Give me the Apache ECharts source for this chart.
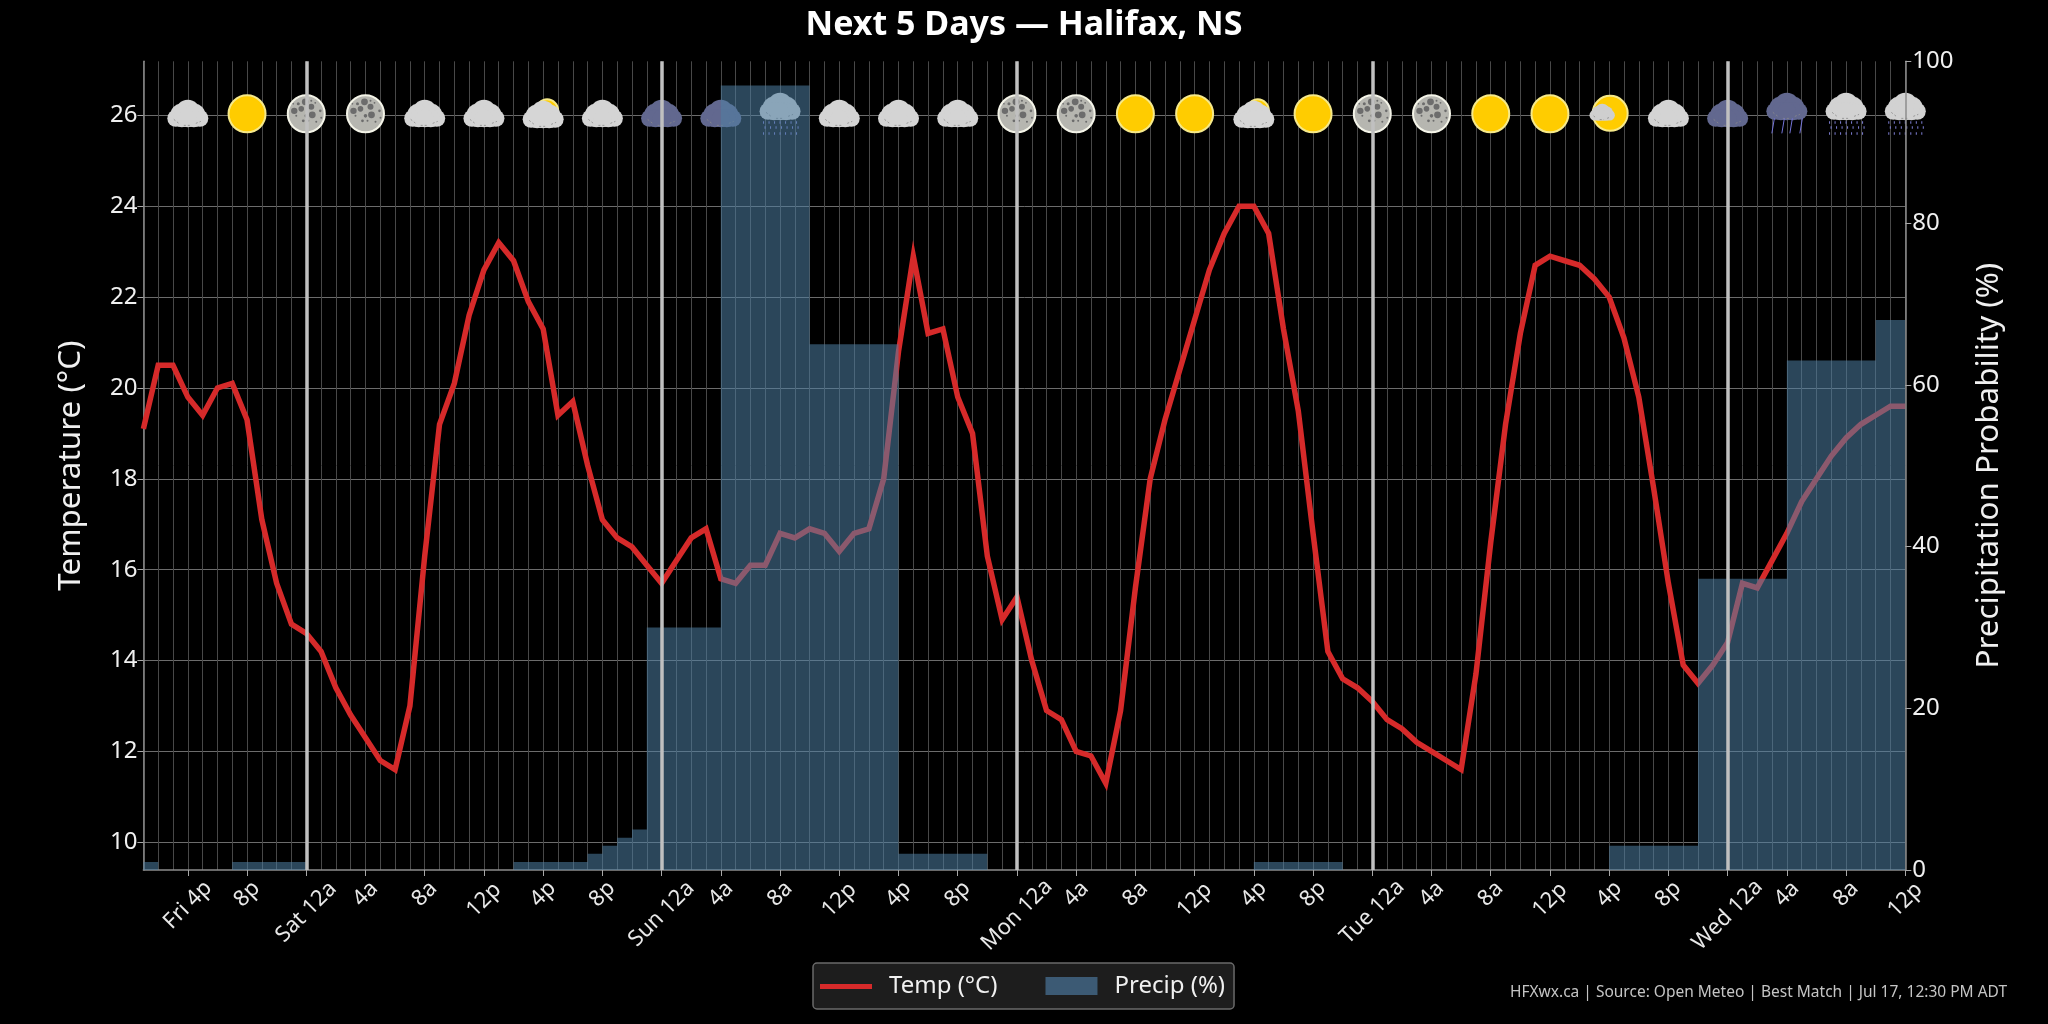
<!DOCTYPE html>
<html>
<head>
<meta charset="utf-8">
<title>Next 5 Days — Halifax, NS</title>
<script src="https://cdn.jsdelivr.net/npm/echarts@6/dist/echarts.min.js"></script>
<style>html,body{margin:0;padding:0;background:#000}#chart{width:2048px;height:1024px}</style>
</head>
<body>
<div id="chart"></div>
<script>
// Hourly forecast, starting Friday 1 PM
const temperature = [
  19.1,20.5,20.5,19.8,19.4,20.0,20.1,19.3,17.1,15.7,
  14.8,14.6,14.2,13.4,12.8,12.3,11.8,11.6,13.0,16.3,
  19.2,20.1,21.6,22.6,23.2,22.8,21.9,21.3,19.4,19.7,
  18.3,17.1,16.7,16.5,16.1,15.7,16.2,16.7,16.9,15.8,
  15.7,16.1,16.1,16.8,16.7,16.9,16.8,16.4,16.8,16.9,
  18.0,20.8,22.9,21.2,21.3,19.8,19.0,16.3,14.9,15.4,
  14.0,12.9,12.7,12.0,11.9,11.3,12.9,15.6,18.0,19.3,
  20.4,21.5,22.6,23.4,24.0,24.0,23.4,21.3,19.5,16.8,
  14.2,13.6,13.4,13.1,12.7,12.5,12.2,12.0,11.8,11.6,
  13.7,16.6,19.2,21.2,22.7,22.9,22.8,22.7,22.4,22.0,
  21.1,19.8,17.8,15.7,13.9,13.5,13.9,14.4,15.7,15.6,
  16.2,16.8,17.5,18.0,18.5,18.9,19.2,19.4,19.6,19.6
];
const precipitation = [
  1,0,0,0,0,0,1,1,1,1,
  1,0,0,0,0,0,0,0,0,0,
  0,0,0,0,0,1,1,1,1,1,
  2,3,4,5,30,30,30,30,30,97,
  97,97,97,97,97,65,65,65,65,65,
  65,2,2,2,2,2,2,0,0,0,
  0,0,0,0,0,0,0,0,0,0,
  0,0,0,0,0,1,1,1,1,1,
  1,0,0,0,0,0,0,0,0,0,
  0,0,0,0,0,0,0,0,0,3,
  3,3,3,3,3,36,36,36,36,36,
  36,63,63,63,63,63,63,68,68,68
];
const tickLabels = [
  'Fri 4p','8p','Sat 12a','4a','8a','12p','4p','8p','Sun 12a','4a','8a','12p','4p','8p',
  'Mon 12a','4a','8a','12p','4p','8p','Tue 12a','4a','8a','12p','4p','8p','Wed 12a','4a','8a','12p'
];
const skyIcons = [
  'cloud','sun','moon','moon','cloud','cloud','partly','cloud','dark','dark',
  'drizzle','cloud','cloud','cloud','moon','moon','sun','sun','partly','sun',
  'moon','moon','sun','sun','sunCloud','cloud','dark','rain','drizzle','drizzle'
];
const tempTicks = [10,12,14,16,18,20,22,24,26];
const midnightHours = [11,35,59,83,107];
const FIRST_TICK = 3, TICK_STEP = 4, ICON_TEMP = 26;

const FONT = '"Noto Sans", sans-serif';
const hours = temperature.map((_, i) => i);
const isTick = i => i >= FIRST_TICK && (i - FIRST_TICK) % TICK_STEP === 0;
const labelAt = i => tickLabels[(i - FIRST_TICK) / TICK_STEP];

// Rotated labels hang from the axis by their own length, so each length gets its own offset
function labelOffset(text) {
  if (text === 'Mon 12a' || text === 'Wed 12a') return 45;
  if (text === 'Sun 12a') return 44;
  if (text === 'Sat 12a' || text === 'Tue 12a') return 42;
  if (text === 'Fri 4p') return 35;
  if (text === '12p') return 30;
  return 24;
}
const offsets = [...new Set(tickLabels.map(labelOffset))];

const labelAxes = offsets.map(m => ({
  type: 'category', data: hours, boundaryGap: false, position: 'bottom',
  axisLine: {show: false}, axisTick: {show: false}, splitLine: {show: false},
  axisLabel: {
    show: true, rotate: 45, align: 'center', verticalAlign: 'middle', margin: m,
    color: '#e8e8e8', fontFamily: FONT, fontSize: 22, hideOverlap: false,
    showMinLabel: true, showMaxLabel: true,
    interval: i => isTick(i) && labelOffset(labelAt(i)) === m,
    formatter: v => isTick(v) && labelOffset(labelAt(v)) === m ? labelAt(v) : ''
  }
}));

// Sky condition glyphs, all centred on the given point
function cloudShapes(cx, cy, s, fill) {
  const circles = [[0,-3,12.5],[-12,3,8.5],[12,3,8.5],[-7,-1,10.5],[7,-1,10.5],[-6,3,9],[6,3,9],[0,3,9]];
  const shapes = circles.map(c => ({
    type: 'circle', shape: {cx: cx + c[0]*s, cy: cy + c[1]*s, r: c[2]*s}, style: {fill}
  }));
  [[-14,4,-9,8],[-4,10,3,10],[8,8,13,6]].forEach(d => shapes.push({
    type: 'line', shape: {x1: cx+d[0]*s, y1: cy+d[1]*s, x2: cx+d[2]*s, y2: cy+d[3]*s},
    style: {stroke: '#8a8a8a', lineWidth: 0.8, lineDash: [2,2]}
  }));
  return shapes;
}
function discShapes(cx, cy, r, fill, edge) {
  return [{type: 'circle', shape: {cx, cy, r}, style: {fill, stroke: edge, lineWidth: 2}}];
}
const craters = [[-1,-12,3.4],[-12,-3,3.2],[-5,-5,2.8],[5,-7,3],[6,1,3.4],[0,2,1.8],[-8,-10,1.5],[5,-13,1],
                 [14,-3,1.3],[15,4,1],[-10,2,1],[-3,7,1.4],[2,7,1],[10,8,1],[-13,-10,0.8],[9,-11,0.9]];
function rainShapes(cx, cy, kind) {
  const out = [];
  if (kind === 'rain') {
    [-14,-4,4,14].forEach(x => out.push({
      type: 'line', shape: {x1: cx+x+1.5, y1: cy+3, x2: cx+x-1, y2: cy+18},
      style: {stroke: '#7474d8', lineWidth: 1}
    }));
  } else {
    [6,11,17].forEach((y, row) => {
      for (let x = -17; x <= 17; x += 5.5) {
        out.push({type: 'rect', shape: {x: cx+x+(row%2)*1.5, y: cy+y, width: 1, height: 2.4},
                  style: {fill: '#7f7fd6'}});
      }
    });
  }
  return out;
}
function iconShapes(kind, x, y) {
  switch (kind) {
    case 'sun': return discShapes(x, y-1.5, 18.5, '#ffcc00', '#f6e98a');
    case 'moon': return discShapes(x, y-1.5, 18.5, '#b6b6b0', '#f4f4e8').concat(craters.map(c => ({
      type: 'circle', shape: {cx: x+c[0], cy: y-1.5+c[1], r: c[2]}, style: {fill: '#6c6c6c'}})));
    case 'partly': return discShapes(x+4, y-5, 11, '#ffcc00', '#f6e98a').concat(cloudShapes(x, y+1, 1, '#d6d6d6'));
    case 'sunCloud': return discShapes(x+1, y-2, 17.5, '#ffcc00', '#f6e98a').concat(cloudShapes(x-7, y-2, 0.62, '#cfcfcf'));
    case 'dark': return cloudShapes(x, y, 1, '#62688f');
    case 'rain': return cloudShapes(x, y-7, 1, '#62688f').concat(rainShapes(x, y, 'rain'));
    case 'drizzle': return cloudShapes(x, y-7, 1, '#d2d2d2').concat(rainShapes(x, y, 'drizzle'));
    default: return cloudShapes(x, y, 1, '#d4d4d4');
  }
}

const option = {
  backgroundColor: '#000',
  animation: false,
  textStyle: {fontFamily: FONT},
  title: [
    {text: 'Next 5 Days — Halifax, NS', left: 'center', top: 3,
     textStyle: {color: '#fff', fontSize: 34, fontWeight: 'bold', fontFamily: FONT}},
    {text: 'HFXwx.ca | Source: Open Meteo | Best Match | Jul 17, 12:30 PM ADT', right: 41, top: 985,
     padding: 0, textStyle: {color: '#c4c4c4', fontSize: 15.5, fontWeight: 'normal', fontFamily: FONT}}
  ],
  legend: {
    left: 813, top: 963, orient: 'horizontal', itemWidth: 52, itemHeight: 18, itemGap: 48,
    padding: [11, 9, 11, 7],
    backgroundColor: '#1d1d1d', borderColor: '#6a6a6a', borderWidth: 1.5, borderRadius: 4,
    textStyle: {color: '#f0f0f0', fontSize: 24, fontFamily: FONT, padding: [0, 0, 0, 12]},
    data: [
      {name: 'Temp (°C)', icon: 'path://M0 0H52M0 7H52V12H0ZM0 18H52', itemStyle: {color: '#d62a2a', borderWidth: 0}},
      {name: 'Precip (%)', icon: 'rect', itemStyle: {color: '#3c5a74', borderWidth: 0}}
    ]
  },
  grid: {left: 143.4, right: 142.7, top: 61.3, bottom: 154, containLabel: false},
  xAxis: [{
    type: 'category', data: hours, boundaryGap: false,
    axisLine: {show: true, lineStyle: {color: '#8c8c8c', width: 1.5}},
    axisTick: {show: true, interval: i => isTick(i), length: 6, lineStyle: {color: '#a8a8a8', width: 1}},
    axisLabel: {show: false},
    splitLine: {show: true, interval: 0, lineStyle: {color: '#484848', width: 1}}
  }].concat(labelAxes),
  yAxis: [{
    type: 'value', min: 9.39, max: 27.19, position: 'left',
    name: 'Temperature (°C)', nameLocation: 'middle', nameGap: 57, nameRotate: 90,
    nameTextStyle: {color: '#f0f0f0', fontSize: 31.4, fontFamily: FONT},
    axisLine: {show: true, lineStyle: {color: '#8c8c8c', width: 1.5}},
    axisTick: {show: true, length: 6, customValues: tempTicks, lineStyle: {color: '#a8a8a8'}},
    axisLabel: {color: '#f0f0f0', fontSize: 24, margin: 6, fontFamily: FONT, customValues: tempTicks, padding: [4, 0, 0, 0]},
    splitLine: {show: true, lineStyle: {color: '#6c6c6c', width: 1}}
  }, {
    type: 'value', min: 0, max: 100, interval: 20, position: 'right', z: 10,
    name: 'Precipitation Probability (%)', nameLocation: 'middle', nameGap: 68, nameRotate: 90,
    nameTextStyle: {color: '#f0f0f0', fontSize: 31.4, fontFamily: FONT},
    axisLine: {show: true, lineStyle: {color: '#8c8c8c', width: 1.5}},
    axisTick: {show: true, length: 6, lineStyle: {color: '#a8a8a8'}},
    axisLabel: {color: '#f0f0f0', fontSize: 24, margin: 7, fontFamily: FONT, padding: [5, 0, 0, 0]},
    splitLine: {show: false}
  }],
  series: [
    {
      // Midnight separators
      name: 'Days', type: 'line', data: [], z: 1, symbol: 'none', silent: true,
      markLine: {
        silent: true, symbol: 'none', label: {show: false}, animation: false,
        lineStyle: {color: '#c0c0c0', width: 3.5, type: 'solid'},
        data: midnightHours.map(h => ({xAxis: h}))
      }
    },
    {
      name: 'Sky', type: 'custom', z: 2, silent: true, clip: false,
      data: skyIcons.map((_, i) => [FIRST_TICK + i * TICK_STEP, ICON_TEMP]),
      encode: {x: 0, y: 1},
      renderItem: (params, api) => {
        const p = api.coord([api.value(0), api.value(1)]);
        return {type: 'group', children: iconShapes(skyIcons[params.dataIndex], p[0], p[1])};
      }
    },
    {
      name: 'Temp (°C)', type: 'line', data: temperature, yAxisIndex: 0, z: 3,
      symbol: 'none', smooth: false,
      lineStyle: {color: '#d62a2a', width: 5.5, join: 'miter'},
      itemStyle: {color: '#d62a2a'}
    },
    {
      // Drawn last: each hour's probability holds until the next hour
      name: 'Precip (%)', type: 'line', data: precipitation, yAxisIndex: 1, z: 4,
      step: 'end', symbol: 'none',
      lineStyle: {width: 0},
      itemStyle: {color: '#3c5a74'},
      areaStyle: {color: 'rgba(78,127,164,0.55)', opacity: 1}
    }
  ]
};

const chart = echarts.init(document.getElementById('chart'), null, {renderer: 'canvas'});
chart.setOption(option);
</script>
</body>
</html>
